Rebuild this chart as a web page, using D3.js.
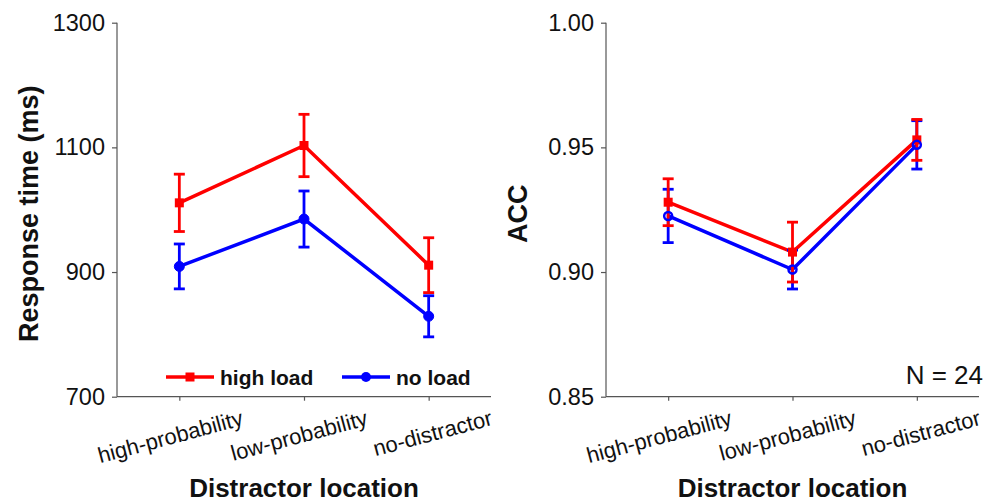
<!DOCTYPE html>
<html>
<head>
<meta charset="utf-8">
<script src="https://cdn.jsdelivr.net/npm/d3@7"></script>
<style>
  body { margin: 0; background: #fff; }
  text { font-family: "Liberation Sans", Arial, sans-serif; }
</style>
</head>
<body>
<svg id="chart"></svg>
<script>
const width = 986
const height = 503

const categories = ['high-probability', 'low-probability', 'no-distractor']

// response time (ms)
const rtHigh = [1011, 1103, 911]
const rtHighErr = [46, 50, 44]
const rtNo = [909, 985, 829]
const rtNoErr = [36, 45, 33]
const rtTicks = [700, 900, 1100, 1300]

// accuracy
const accHigh = [0.928, 0.908, 0.953]
const accHighErr = [0.0094, 0.012, 0.0082]
const accNo = [0.9225, 0.901, 0.951]
const accNoErr = [0.0107, 0.0078, 0.0097]
const accTicks = [0.85, 0.90, 0.95, 1.00]

const RED = '#ff0000'
const BLUE = '#0000ff'

const svg = d3.select('svg#chart')
  .attr('width', width)
  .attr('height', height)

const yTop = 22.7
const yBottom = 396.7

function panel(opts) {
  const { left, right, domain, ticks, fmt, high, highErr, no, noErr, title, hollow } = opts

  const x = d3.scalePoint().domain(categories).range([left, right]).padding(0.5)
  const y = d3.scaleLinear().domain(domain).range([yBottom, yTop])

  const g = svg.append('g')

  // y axis
  const yAxis = d3.axisLeft(y).tickValues(ticks).tickFormat(fmt).tickSize(5).tickPadding(7)
  const yg = g.append('g')
    .attr('transform', `translate(${left},0)`)
    .call(yAxis)
  yg.selectAll('path, line').attr('stroke', '#555').attr('stroke-width', 1.2)
  yg.selectAll('text').attr('font-size', 23.5).attr('fill', '#111')
    .attr('font-family', '"Liberation Sans", Arial, sans-serif')
  yg.select('.domain').attr('d', `M0,${yTop}V${yBottom}`)

  // x axis
  const xAxis = d3.axisBottom(x).tickSize(4).tickFormat('')
  const xg = g.append('g')
    .attr('transform', `translate(0,${yBottom})`)
    .call(xAxis)
  xg.selectAll('path, line').attr('stroke', '#555').attr('stroke-width', 1.2)
  xg.select('.domain').attr('d', `M${left},0H${right}`)

  // rotated category labels, right end tied to the tick
  g.selectAll('.cat')
    .data(categories)
    .enter().append('text')
    .attr('class', 'cat')
    .attr('text-anchor', 'end')
    .attr('font-size', 22)
    .attr('fill', '#111')
    .attr('transform', d => `translate(${x(d) + 65},${yBottom + 28}) rotate(-15)`)
    .text(d => d)

  // x title
  g.append('text')
    .attr('x', (left + right) / 2)
    .attr('y', 497)
    .attr('text-anchor', 'middle')
    .attr('font-size', 26)
    .attr('font-weight', 'bold')
    .attr('fill', '#111')
    .text('Distractor location')

  // y title
  g.append('text')
    .attr('transform', `translate(${left - 79},${(yTop + yBottom) / 2 + 4}) rotate(-90)`)
    .attr('text-anchor', 'middle')
    .attr('font-size', 27)
    .attr('font-weight', 'bold')
    .attr('fill', '#111')
    .text(title)

  const line = d3.line()
    .x((d, i) => x(categories[i]))
    .y(d => y(d))

  g.append('path').datum(high)
    .attr('d', line).attr('fill', 'none').attr('stroke', RED).attr('stroke-width', 3.5)
  g.append('path').datum(no)
    .attr('d', line).attr('fill', 'none').attr('stroke', BLUE).attr('stroke-width', 3.5)

  function errBars(vals, errs, color) {
    const eb = g.append('g').attr('stroke', color).attr('stroke-width', 2.8)
    vals.forEach((v, i) => {
      const cx = x(categories[i])
      const y0 = y(v + errs[i]), y1 = y(v - errs[i])
      eb.append('line').attr('x1', cx).attr('x2', cx).attr('y1', y0).attr('y2', y1)
      eb.append('line').attr('x1', cx - 5.5).attr('x2', cx + 5.5).attr('y1', y0).attr('y2', y0)
      eb.append('line').attr('x1', cx - 5.5).attr('x2', cx + 5.5).attr('y1', y1).attr('y2', y1)
    })
  }
  errBars(no, noErr, BLUE)
  errBars(high, highErr, RED)

  g.selectAll('.sq')
    .data(high)
    .enter().append('rect')
    .attr('x', (d, i) => x(categories[i]) - 4.5)
    .attr('y', d => y(d) - 4.5)
    .attr('width', 9).attr('height', 9)
    .attr('fill', RED)

  g.selectAll('.dot')
    .data(no)
    .enter().append('circle')
    .attr('cx', (d, i) => x(categories[i]))
    .attr('cy', d => y(d))
    .attr('r', hollow ? 4 : 5)
    .attr('fill', hollow ? 'none' : BLUE)
    .attr('stroke', BLUE)
    .attr('stroke-width', hollow ? 2.5 : 1)

  return { x, y, g }
}

const left = panel({
  left: 117, right: 491, domain: [700, 1300], ticks: rtTicks, fmt: d3.format('d'),
  high: rtHigh, highErr: rtHighErr, no: rtNo, noErr: rtNoErr,
  title: 'Response time (ms)', hollow: false
})

const right = panel({
  left: 606, right: 979, domain: [0.85, 1.00], ticks: accTicks, fmt: d3.format('.2f'),
  high: accHigh, highErr: accHighErr, no: accNo, noErr: accNoErr,
  title: 'ACC', hollow: true
})

// legend in the left panel
const legend = svg.append('g')
const legendItems = [
  { label: 'high load', color: RED, shape: 'square', x: 166 },
  { label: 'no load', color: BLUE, shape: 'circle', x: 342 }
]
legendItems.forEach(it => {
  const ly = 377
  legend.append('line')
    .attr('x1', it.x).attr('x2', it.x + 48).attr('y1', ly).attr('y2', ly)
    .attr('stroke', it.color).attr('stroke-width', 3.5)
  if (it.shape === 'square') {
    legend.append('rect').attr('x', it.x + 24 - 4.5).attr('y', ly - 4.5)
      .attr('width', 9).attr('height', 9).attr('fill', it.color)
  } else {
    legend.append('circle').attr('cx', it.x + 24).attr('cy', ly).attr('r', 5).attr('fill', it.color)
  }
  legend.append('text')
    .attr('x', it.x + 54).attr('y', ly + 7.5)
    .attr('font-size', 21).attr('font-weight', 'bold').attr('fill', '#111')
    .text(it.label)
})

// sample size note
svg.append('text')
  .attr('x', 983).attr('y', 384)
  .attr('text-anchor', 'end')
  .attr('font-size', 26)
  .attr('fill', '#111')
  .text('N = 24')
</script>
</body>
</html>
